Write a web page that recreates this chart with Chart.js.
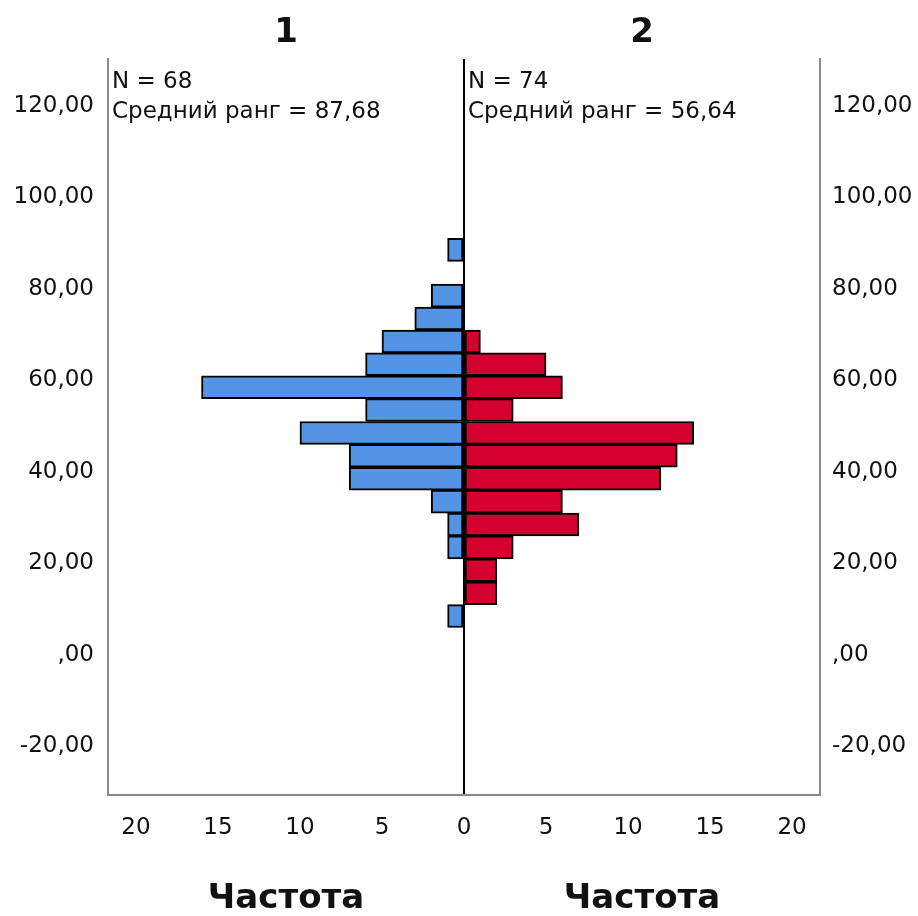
<!DOCTYPE html>
<html>
<head>
<meta charset="utf-8">
<script src="https://cdn.jsdelivr.net/npm/chart.js@4.4.0/dist/chart.umd.min.js"></script>
<style>
    html, body { margin: 0; padding: 0; background: #fff; }
    #wrap { width: 918px; height: 916px; }
</style>
</head>
<body>
<div id="wrap"><canvas id="pyramid" width="918" height="916"></canvas></div>
<script>
// Bin midpoints (value axis, 5-unit bins)
const binCenters = [8.5, 13.5, 18.5, 23.5, 28.5, 33.5, 38.5, 43.5, 48.5, 53.5, 58.5, 63.5, 68.5, 73.5, 78.5, 83.5, 88.5];
// Frequencies per bin
const group1Counts = [1, 0, 0, 1, 1, 2, 7, 7, 10, 6, 16, 6, 5, 3, 2, 0, 1];
const group2Counts = [0, 2, 2, 3, 7, 6, 12, 13, 14, 3, 6, 5, 1, 0, 0, 0, 0];
// Tick labels
const yTicks = [-20, 0, 20, 40, 60, 80, 100, 120];
const xTicks = [-20, -15, -10, -5, 0, 5, 10, 15, 20];
const panelTitles = ['1', '2'];
const panelInfo = [
    ['N = 68', 'Средний ранг = 87,68'],
    ['N = 74', 'Средний ранг = 56,64']
];
const axisTitle = 'Частота';

const FONT = '"DejaVu Sans", Verdana, sans-serif';
const colors = {
    blue: '#5394E4',
    red: '#D4002E',
    frame: '#8a8a8a',
    text: '#111'
};

const yRange = { min: -30.6, max: 130.2 };

function formatY(v) {
    if (v === 0) return ',00';
    return v + ',00';
}

// Extra text: panel titles, N / mean rank, axis titles
const textPlugin = {
    id: 'panelText',
    afterDraw(chart) {
        const { ctx, chartArea, scales } = chart;
        const zeroX = scales.x.getPixelForValue(0);
        const panels = [
            { left: chartArea.left, center: (chartArea.left + zeroX) / 2 },
            { left: zeroX, center: (zeroX + chartArea.right) / 2 }
        ];
        ctx.save();
        ctx.fillStyle = colors.text;
        ctx.textBaseline = 'alphabetic';
        panels.forEach((p, i) => {
            ctx.textAlign = 'center';
            ctx.font = 'bold 34px ' + FONT;
            ctx.fillText(panelTitles[i], p.center, 42);
            ctx.fillText(axisTitle, p.center, 908);

            ctx.textAlign = 'left';
            ctx.font = '23px ' + FONT;
            ctx.fillText(panelInfo[i][0], p.left + 4, 88);
            ctx.fillText(panelInfo[i][1], p.left + 4, 118);
        });
        ctx.restore();
    }
};

function valueAxis(position, width, padding) {
    return {
        type: 'linear',
        position: position,
        min: yRange.min,
        max: yRange.max,
        offset: false,
        afterBuildTicks: scale => {
            scale.ticks = yTicks.map(v => ({ value: v }));
        },
        afterFit: scale => { scale.width = width; },
        grid: { display: false, drawTicks: false, offset: false },
        border: { display: true, color: colors.frame, width: 2 },
        ticks: {
            padding: padding,
            color: colors.text,
            font: { family: FONT, size: 23 },
            callback: v => formatY(v)
        }
    };
}

const ctx = document.getElementById('pyramid');
new Chart(ctx, {
    type: 'bar',
    data: {
        datasets: [
            {
                label: '1',
                data: binCenters.map((c, i) => ({ y: c, x: -group1Counts[i] })),
                backgroundColor: colors.blue,
                borderColor: '#000',
                borderWidth: 2,
                borderSkipped: false,
                grouped: false,
                barPercentage: 1,
                categoryPercentage: 1
            },
            {
                label: '2',
                data: binCenters.map((c, i) => ({ y: c, x: group2Counts[i] })),
                backgroundColor: colors.red,
                borderColor: '#000',
                borderWidth: 2,
                borderSkipped: false,
                grouped: false,
                barPercentage: 1,
                categoryPercentage: 1
            }
        ]
    },
    options: {
        responsive: false,
        animation: false,
        devicePixelRatio: 1,
        indexAxis: 'y',
        layout: {
            padding: { top: 59, left: 0, right: 0, bottom: 0 }
        },
        plugins: {
            legend: { display: false },
            tooltip: { enabled: false }
        },
        scales: {
            x: {
                type: 'linear',
                min: -21.7,
                max: 21.7,
                afterBuildTicks: scale => {
                    scale.ticks = xTicks.map(v => ({ value: v }));
                },
                afterFit: scale => { scale.height = 121; },
                grid: {
                    drawTicks: false,
                    color: c => (c.tick && c.tick.value === 0 ? '#000' : 'rgba(0,0,0,0)'),
                    lineWidth: 2
                },
                border: { display: true, color: colors.frame, width: 2 },
                ticks: {
                    padding: 19,
                    color: colors.text,
                    font: { family: FONT, size: 23 },
                    callback: v => Math.abs(v)
                }
            },
            y: valueAxis('left', 108, 14),
            yRight: valueAxis('right', 98, 12)
        }
    },
    plugins: [textPlugin]
});
</script>
</body>
</html>
